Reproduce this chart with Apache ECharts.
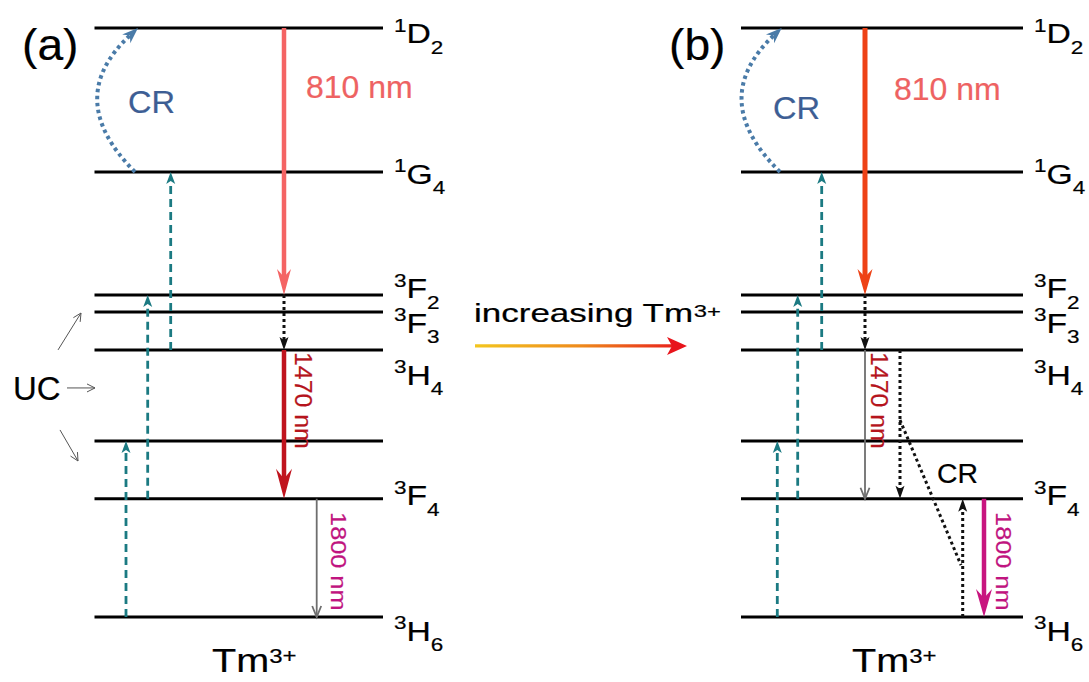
<!DOCTYPE html>
<html><head><meta charset="utf-8">
<script src="https://cdn.jsdelivr.net/npm/echarts@6/dist/echarts.min.js"></script>
<style>html,body{margin:0;padding:0;background:#fff}#chart{width:1089px;height:682px}</style>
</head><body><div id="chart"></div>
<script>
// ================= DATA =================
// Tm3+ energy levels (10^3 cm^-1)
const levelNames  = ['3H6','3F4','3H5','3H4','3F3','3F2','1G4','1D2'];
const levelEnergy = [0, 5.6, 8.34, 12.65, 14.45, 15.25, 21.08, 27.9];
const levelSup    = ['3','3','','3','3','3','1','1'];
const levelLetter = ['H','F','','H','F','F','G','D'];
const levelSub    = ['6','4','','4','3','2','4','2'];

// transitions, panel (a)
const transAFrom = ['1D2','3F2','3H4','3F4','3H6','3F4','3H4','1G4'];
const transATo   = ['3F2','3H4','3F4','3H6','3H5','3F2','1G4','1D2'];
const transAKind = ['a810','nr','a1470','thin','uc','uc','uc','cr'];
// transitions, panel (b)
const transBFrom = ['1D2','3F2','3H4','3F4','3H6','3F4','3H4','1G4','3H4','3H6'];
const transBTo   = ['3F2','3H4','3F4','3H6','3H5','3F2','1G4','1D2','3F4','3F4'];
const transBKind = ['b810','nr','thin','b1800','uc','uc','uc','cr','nr','nr'];
// cross-relaxation link energies in (b): on 3H4->3F4 and on 3H6->3F4
const crLinkEnergy = [9.33, 2.46];

// texts
const panelTags  = ['(a)','(b)'];
const waveLabels = ['810 nm','1470 nm','1800 nm'];
const crText = 'CR';
const ucText = 'UC';
const ionText = ['Tm','3+'];
const trendText = ['increasing Tm','3+'];

// ================= LAYOUT =================
const FONT = '"Liberation Sans", Arial, sans-serif';
const panelX = [[94.5, 383], [741, 1023]];
const transAX = [284, 284, 284, 316.7, 126, 147.7, 170.7, [135, 138]];
const transBX = [865, 865, 865, 984, 777.3, 797.7, 821.7, [780, 781.7], 900, 962.7];
const crLinkX = [900, 961];
const labelOff = [14, -3, 0, 25, 11, -6.5, 2, 5.5]; // px offset of level label from its line
const styles = {
  a810:  {color:'#F46464', lw:4.5, head:[14,26,18]},
  b810:  {color:'#EE4216', lw:5,   head:[15,26,18]},
  nr:    {color:'#111',    lw:3,   dash:[3,3], head:[9,13,10]},
  a1470: {color:'#C0141E', lw:4.5, head:[16,30,20]},
  thin:  {color:'#6E6E6E', lw:1.8, open:true, head:[9,11]},
  b1800: {color:'#C8157F', lw:4.5, head:[16,28,19]},
  uc:    {color:'#1B7A82', lw:2.8, dash:[8,5], head:[9,12,9]},
  cr:    {color:'#4A7BA8', lw:4,   dash:[3.5,3.5], head:[12,16,11], bend:0.52},
  link:  {color:'#111',    lw:3,   dash:[3,3]},
  ptr:   {color:'#555',    lw:1,   open:true, head:[8,8]},
  trend: {color:'grad',    lw:3.3, head:[18,20,15], headColor:'#E8141B'}
};
const TW = 0.2; // text stroke weight

function E(name){ return levelEnergy[levelNames.indexOf(name)]; }

// build transition records
const trans = [];
function addT(x0, e0, x1, e1, key){ trans.push({v:[x0,e0,x1,e1], key}); }
transAFrom.forEach((f,i)=>{ const x = transAX[i]; const xs = Array.isArray(x)?x:[x,x]; addT(xs[0],E(f),xs[1],E(transATo[i]),transAKind[i]); });
transBFrom.forEach((f,i)=>{ const x = transBX[i]; const xs = Array.isArray(x)?x:[x,x]; addT(xs[0],E(f),xs[1],E(transBTo[i]),transBKind[i]); });
addT(crLinkX[0], crLinkEnergy[0], crLinkX[1], crLinkEnergy[1], 'link');
// UC pointers and trend arrow (annotation arrows)
addT(58, 12.65, 81, 14.40, 'ptr');
addT(67, 10.85, 95, 10.85, 'ptr');
addT(60, 8.86, 78, 7.39, 'ptr');
addT(475, 12.84, 687, 12.84, 'trend');

// levels records
const levelData = [];
panelX.forEach((px,p)=>levelEnergy.forEach((e,i)=>levelData.push([px[0],px[1],e,i,p])));

// text records
function rs(o){ return Object.assign({fontFamily:FONT, fill:'#000', stroke:'#000', lineWidth:TW}, o); }
const lvlRich = {
  p: rs({fontSize:18, lineHeight:18, verticalAlign:'top', padding:[6,0,0,0]}),
  m: rs({fontSize:27, lineHeight:46}),
  s: rs({fontSize:18, lineHeight:18, verticalAlign:'bottom'})
};
const ionRich = {
  m: rs({fontSize:33, lineHeight:30}),
  s: rs({fontSize:20, lineHeight:20, verticalAlign:'top'})
};
const trendRich = {
  m: rs({fontSize:25, lineHeight:22}),
  s: rs({fontSize:17, lineHeight:17, verticalAlign:'top'})
};
const texts = [
  {t:panelTags[0], x:22,  e:27.1, size:44, sx:1.05, color:'#000'},
  {t:panelTags[1], x:669, e:27.1, size:44, sx:1.05, color:'#000'},
  {t:crText, x:128, e:24.37, size:31, sx:1.05, color:'#3D5E94'},
  {t:crText, x:773, e:24.11, size:31, sx:1.05, color:'#3D5E94'},
  {t:waveLabels[0], x:306, e:25.11, size:32, sx:1.0, color:'#EE6262'},
  {t:waveLabels[0], x:894, e:25.01, size:32, sx:1.0, color:'#EE6262'},
  {t:waveLabels[1], x:303, e:12.55, size:23, sx:1.08, color:'#B5141C', rot:-Math.PI/2},
  {t:waveLabels[1], x:879, e:12.55, size:23, sx:1.08, color:'#B5141C', rot:-Math.PI/2},
  {t:waveLabels[2], x:338, e:4.97, size:22, sx:1.15, color:'#C0147F', rot:-Math.PI/2},
  {t:waveLabels[2], x:1003, e:4.97, size:22, sx:1.15, color:'#C0147F', rot:-Math.PI/2},
  {t:ucText, x:13, e:10.85, size:34, sx:0.97, color:'#000'},
  {t:crText, x:937, e:6.77, size:27, sx:1.05, color:'#000'},
  {t:'{m|'+ionText[0]+'}{s|'+ionText[1]+'}', rich:ionRich, x:212, e:-2.08, size:33, sx:1.2, color:'#000'},
  {t:'{m|'+ionText[0]+'}{s|'+ionText[1]+'}', rich:ionRich, x:852, e:-2.08, size:33, sx:1.2, color:'#000'},
  {t:'{m|'+trendText[0]+'}{s|'+trendText[1]+'}', rich:trendRich, x:474, e:14.38, size:25, sx:1.4, color:'#000'}
];

// ================= RENDER =================
function norm(v){ const L=Math.hypot(v[0],v[1])||1; return [v[0]/L, v[1]/L]; }
function head(tip, dir, st){
  const [w,h,n] = st.head; const nx=-dir[1], ny=dir[0];
  const bx=tip[0]-dir[0]*h, by=tip[1]-dir[1]*h;
  const p1=[bx+nx*w/2, by+ny*w/2], p2=[bx-nx*w/2, by-ny*w/2];
  const col = st.headColor || st.color;
  if (st.open) return {type:'polyline', shape:{points:[p1,tip,p2]}, style:{stroke:col, lineWidth:st.lw, fill:null, lineJoin:'miter'}};
  const pn=[tip[0]-dir[0]*n, tip[1]-dir[1]*n];
  return {type:'polygon', shape:{points:[tip,p1,pn,p2]}, style:{fill:col}};
}
function renderTrans(params, api){
  const rec = trans[params.dataIndex]; const st = styles[rec.key];
  const p0 = api.coord([api.value(0), api.value(1)]);
  const p1 = api.coord([api.value(2), api.value(3)]);
  let stroke = st.color;
  if (stroke === 'grad') stroke = {type:'linear', x:p0[0], y:0, x2:p1[0], y2:0, global:true,
      colorStops:[{offset:0,color:'#F3C61F'},{offset:0.5,color:'#EE8A1C'},{offset:1,color:'#E8141B'}]};
  const ls = {stroke, lineWidth:st.lw, fill:null, lineDash: st.dash || null, lineCap:'butt'};
  const ch = [];
  if (st.bend) {
    const mx=(p0[0]+p1[0])/2, my=(p0[1]+p1[1])/2;
    const dx=p1[0]-p0[0], dy=p1[1]-p0[1];
    const c=[mx+dy*st.bend, my-dx*st.bend];
    const dir = norm([p1[0]-c[0], p1[1]-c[1]]);
    const n = st.head[2]-1;
    const e=[p1[0]-dir[0]*n, p1[1]-dir[1]*n];
    ch.push({type:'bezierCurve', shape:{x1:p0[0],y1:p0[1],x2:e[0],y2:e[1],cpx1:c[0],cpy1:c[1]}, style:ls});
    ch.push(head(p1, dir, st));
  } else {
    const dir = norm([p1[0]-p0[0], p1[1]-p0[1]]);
    let e = p1;
    if (st.head && !st.open) { const n=st.head[2]-1; e=[p1[0]-dir[0]*n, p1[1]-dir[1]*n]; }
    ch.push({type:'line', shape:{x1:p0[0],y1:p0[1],x2:e[0],y2:e[1]}, style:ls});
    if (st.head) ch.push(head(p1, dir, st));
  }
  return {type:'group', children:ch};
}
function renderLevel(params, api){
  const a = api.coord([api.value(0), api.value(2)]);
  const b = api.coord([api.value(1), api.value(2)]);
  const i = api.value(3);
  const ch = [{type:'line', shape:{x1:a[0],y1:a[1],x2:b[0],y2:b[1]}, style:{stroke:'#000', lineWidth:3}}];
  if (levelLetter[i]) {
    ch.push({type:'text', x:b[0]+11, y:b[1]+labelOff[i], scaleX:1.25,
      style:{text:'{p|'+levelSup[i]+'}{m|'+levelLetter[i]+'}{s|'+levelSub[i]+'}', rich:lvlRich,
             fontFamily:FONT, fontSize:27, fill:'#000', stroke:'#000', lineWidth:TW, align:'left', verticalAlign:'middle'}});
  }
  return {type:'group', children:ch};
}
function renderText(params, api){
  const it = texts[params.dataIndex];
  const c = api.coord([api.value(0), api.value(1)]);
  return {type:'text', x:c[0], y:c[1], rotation: it.rot||0, scaleX: it.sx||1,
    style:{text:it.t, rich:it.rich, fontSize:it.size, fontFamily:FONT, fill:it.color, stroke:it.color, lineWidth:TW,
           align:'left', verticalAlign:'middle'}};
}

const chart = echarts.init(document.getElementById('chart'), null, {renderer:'svg'});
chart.setOption({
  animation:false,
  grid:{left:0, right:0, top:28, bottom:65},
  xAxis:{type:'value', min:0, max:1089, show:false},
  yAxis:{type:'value', min:0, max:27.9, show:false},
  series:[
    {type:'custom', name:'levels', renderItem:renderLevel, data:levelData, silent:true},
    {type:'custom', name:'transitions', renderItem:renderTrans, data:trans.map(r=>r.v), silent:true},
    {type:'custom', name:'texts', renderItem:renderText, data:texts.map(t=>[t.x,t.e]), silent:true}
  ]
});
</script></body></html>
